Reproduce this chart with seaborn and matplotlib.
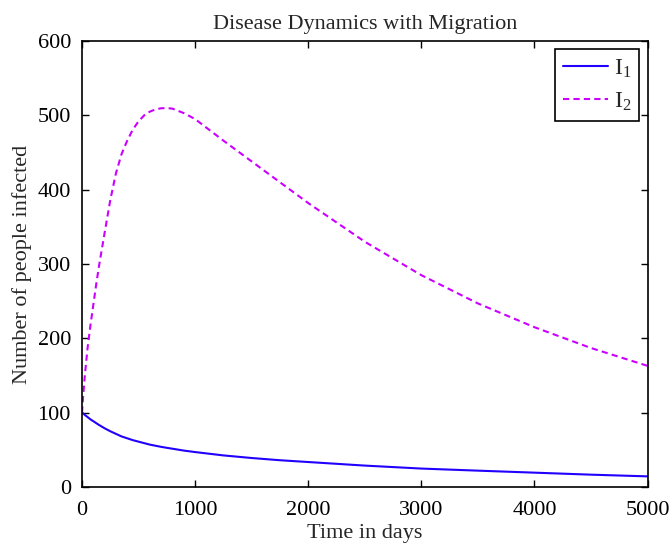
import matplotlib
matplotlib.use("Agg")
import matplotlib.pyplot as plt
import seaborn as sns
import pandas as pd

# Simulated number of infected people in two linked populations
days = [0, 10, 25, 50, 75, 100, 125, 150, 200, 250, 300, 350, 400, 450, 500,
        550, 600, 650, 700, 750, 800, 900, 1000, 1250, 1500, 1750, 2000,
        2500, 3000, 3500, 4000, 4500, 5000]
infected_1 = [100, 99, 97, 94, 91, 88.5, 86, 83.5, 79, 75, 71.5, 68, 65.5, 63, 61,
              59, 57, 55.5, 54, 52.7, 51.5, 49, 47, 42.5, 39, 36, 33.6,
              28.8, 24.8, 22, 19.3, 16.6, 14.3]
infected_2 = [100, 122, 150, 188, 218, 245, 272, 297, 342, 386, 422, 448, 466, 481, 492,
              500, 505, 508, 509.5, 509.8, 509, 503, 495, 466, 438, 410, 382,
              330, 285, 247, 215, 187, 163]

x_ticks = [0, 1000, 2000, 3000, 4000, 5000]
y_ticks = [0, 100, 200, 300, 400, 500, 600]

df = pd.DataFrame({"day": days, "I1": infected_1, "I2": infected_2})

sns.set_theme(style="white")
plt.rcParams["font.family"] = ["Liberation Serif", "DejaVu Serif"]
plt.rcParams["mathtext.fontset"] = "custom"
plt.rcParams["mathtext.rm"] = "Liberation Serif"
plt.rcParams["mathtext.it"] = "Liberation Serif"
plt.rcParams["mathtext.default"] = "rm"

fs = 16
fig = plt.figure(figsize=(6.7, 5.48), dpi=100)
ax = fig.add_axes([82 / 670, 1 - 487 / 548, (647.5 - 82) / 670, (487 - 41) / 548])

sns.lineplot(data=df, x="day", y="I1", ax=ax, color="#2200ff", lw=1.5,
             label="I$_1$", estimator=None, sort=False)
sns.lineplot(data=df, x="day", y="I2", ax=ax, color="#cc00ff", lw=1.5,
             label="I$_2$", estimator=None, sort=False)
ax.lines[1].set_dashes((3, 2))

ax.set_xlim(0, 5000)
ax.set_ylim(0, 600)
ax.set_xticks(x_ticks)
ax.set_yticks(y_ticks)
ax.tick_params(direction="in", length=5, width=1, colors="black",
               labelsize=fs, top=True, right=True, bottom=True, left=True)
ax.tick_params(axis="x", pad=10)
ax.tick_params(axis="y", pad=8)
for s in ax.spines.values():
    s.set_color("black")
    s.set_linewidth(1.2)

ax.set_xlabel("Time in days", fontsize=fs, labelpad=3)
ax.set_ylabel("Number of people infected", fontsize=fs, labelpad=4)
ax.set_title("Disease Dynamics with Migration", fontsize=fs, pad=9)

leg = ax.legend(loc="upper right", fontsize=fs + 1, frameon=True, fancybox=False,
                handlelength=1.9, borderaxespad=0.35, labelspacing=0.45,
                handletextpad=0.25, borderpad=0.35)
leg.get_frame().set_edgecolor("black")
leg.get_frame().set_linewidth(1.2)
leg.get_frame().set_alpha(1)

fig.savefig("out.png", dpi=100, facecolor="white")
